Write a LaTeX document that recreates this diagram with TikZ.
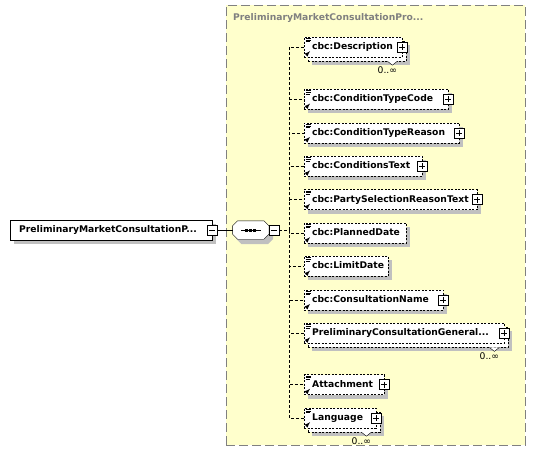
\documentclass[tikz,border=0pt]{standalone}
\usepackage{fontspec}
\setmainfont{DejaVu Sans}
\usetikzlibrary{positioning}
\uchyph=0

\definecolor{grpfill}{RGB}{255,255,204}
\definecolor{grpline}{RGB}{128,128,128}
\definecolor{shadowgray}{RGB}{192,192,192}

\begin{document}
\begin{tikzpicture}[x=1pt, y=-1pt,
	every node/.style={font=\fontsize{9.2}{11}\selectfont\bfseries},
	boxshadow/.style={preaction={fill=shadowgray, transform canvas={shift={(4pt,-4pt)}}}},
	elem/.style={rectangle, draw=black, dash pattern=on 2pt off 1.5pt, fill=white, boxshadow,
		text width=#1, align=left, inner sep=0pt, minimum height=20pt, text height=7pt, text depth=2pt,
		anchor=west, execute at begin node={\hspace*{8pt}}},
	multi/.style={preaction={fill=shadowgray, transform canvas={shift={(8pt,-8pt)}}},
		preaction={draw=black, fill=white, dash pattern=on 2pt off 1.5pt, transform canvas={shift={(4pt,-4pt)}}}},
	rootbox/.style={rectangle, draw=black, fill=white, boxshadow, text width=202pt, align=left,
		inner sep=0pt, minimum height=20pt, text height=7pt, text depth=2pt, anchor=west,
		execute at begin node={\hspace*{9pt}}},
	minusbox/.style={rectangle, draw=black, solid, fill=white, minimum size=10pt, inner sep=0pt,
		path picture={\draw ([xshift=2pt]path picture bounding box.west) -- ([xshift=-2pt]path picture bounding box.east);}},
	plusbox/.style={minusbox,
		path picture={\draw ([xshift=2pt]path picture bounding box.west) -- ([xshift=-2pt]path picture bounding box.east)
			([yshift=-2pt]path picture bounding box.north) -- ([yshift=2pt]path picture bounding box.south);}},
	seqbox/.style={rectangle, minimum width=36pt, minimum height=18pt, inner sep=0pt},
	grp/.style={rectangle, draw=grpline, fill=grpfill, dash pattern=on 9pt off 4pt,
		minimum width=299pt, minimum height=440pt, inner sep=0pt, anchor=north west},
	occurs/.style={font=\fontsize{9.2}{11}\selectfont, inner sep=0pt},
	conn/.style={dash pattern=on 3pt off 2pt}
	]
	\useasboundingbox (0,0) rectangle (536,461);

	\node (grp) [grp] at (226,5) {};
	\node (grptitle) [text=grpline, anchor=west, inner sep=0pt] at (233,18) {PreliminaryMarketConsultationPro...};

	\node (root) [rootbox] at (10,230) {PreliminaryMarketConsultationP...};
	\node (rootminus) [minusbox] at (root.east) {};
	\node (seq) [seqbox, right=15pt of rootminus] {};

	% sequence octagon
	\draw [fill=white, preaction={fill=shadowgray, transform canvas={shift={(4pt,-5pt)}}}]
		([xshift=5pt]seq.north west) -- ([xshift=-5pt]seq.north east) -- ([yshift=-5pt]seq.north east)
		-- ([yshift=5pt]seq.south east) -- ([xshift=-5pt]seq.south east) -- ([xshift=5pt]seq.south west)
		-- ([yshift=5pt]seq.south west) -- ([yshift=-5pt]seq.north west) -- cycle;
	\draw ([xshift=-10pt]seq.center) -- ([xshift=10pt]seq.center);
	\foreach \dx in {-4,0,4}
		\fill ([shift={(\dx pt-1.5pt,-1.5pt)}]seq.center) rectangle ++(3pt,3pt);
	\node (seqminus) [minusbox, right=0pt of seq] {};

	\node (desc) [elem=98pt, multi] at (304,47) {cbc:Description};
	\node (ctcode) [elem=144pt, below=32pt of desc.south west, anchor=north west] {cbc:ConditionTypeCode};
	\node (ctreason) [elem=155pt, below=13pt of ctcode.south west, anchor=north west] {cbc:ConditionTypeReason};
	\node (condtext) [elem=118pt, below=13pt of ctreason.south west, anchor=north west] {cbc:ConditionsText};
	\node (partysel) [elem=173pt, below=13pt of condtext.south west, anchor=north west] {cbc:PartySelectionReasonText};
	\node (planned) [elem=102pt, below=13pt of partysel.south west, anchor=north west] {cbc:PlannedDate};
	\node (limit) [elem=84pt, below=13pt of planned.south west, anchor=north west] {cbc:LimitDate};
	\node (consname) [elem=139pt, below=13pt of limit.south west, anchor=north west] {cbc:ConsultationName};
	\node (pcg) [elem=200pt, multi, below=13pt of consname.south west, anchor=north west] {PreliminaryConsultationGeneral...};
	\node (attach) [elem=80pt, below=31pt of pcg.south west, anchor=north west] {Attachment};
	\node (lang) [elem=72pt, multi, below=13pt of attach.south west, anchor=north west] {Language};

	% expand boxes
	\foreach \n in {desc,ctcode,ctreason,condtext,partysel,consname,pcg,attach,lang}
		\node (\n plus) [plusbox] at (\n.east) {};

	% small icons
	\foreach \n in {desc,ctcode,ctreason,condtext,partysel,planned,limit,consname,pcg,attach,lang} {
		\draw [line width=.6pt] ([shift={(1.5pt,-1.5pt)}]\n.north west) --++(5pt,0pt)
			([shift={(1.5pt,-3.2pt)}]\n.north west) --++(5pt,0pt)
			([shift={(1.5pt,-4.9pt)}]\n.north west) --++(4pt,0pt);
		\draw [line width=.9pt, -latex] ([shift={(2pt,2pt)}]\n.south west) --++(4pt,4pt);
	}

	% occurrences
	\foreach \n in {desc,pcg,lang} {
		\draw [fill=white] ([shift={(-15pt,-4pt)}]\n.south east) --++(5pt,-4pt) --++(5pt,4pt);
		\node (\n occ) [occurs] at ([shift={(-15pt,-13pt)}]\n.south east) {0..∞};
	}

	\draw (rootminus.east) -- (seq.west);
	\foreach \n in {desc,ctcode,ctreason,condtext,partysel,planned,limit,consname,pcg,attach,lang}
		\draw [conn] (seqminus.east) --++(10,0) |- (\n.west);

\end{tikzpicture}
\end{document}
